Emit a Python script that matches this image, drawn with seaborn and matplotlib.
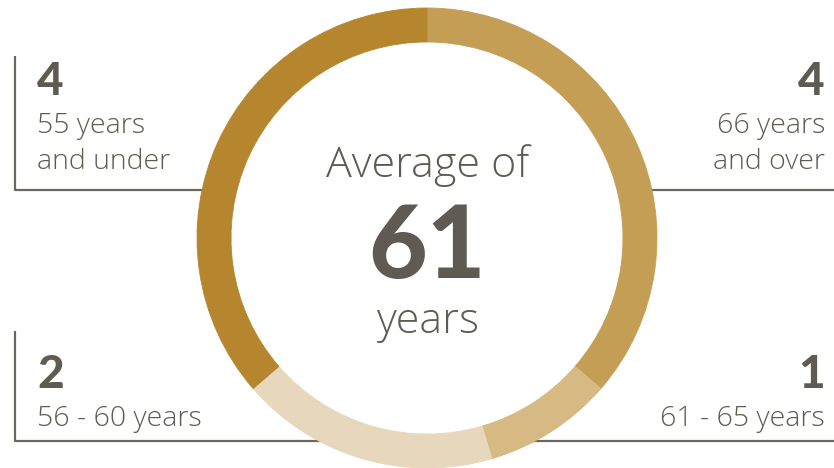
import matplotlib
matplotlib.use("Agg")
import matplotlib.pyplot as plt
import seaborn as sns
from matplotlib.patches import Circle

# Data
groups = ["66 years\nand over", "61 - 65 years", "56 - 60 years", "55 years\nand under"]
counts = [4, 1, 2, 4]
colors = ["#C59E56", "#D6B983", "#E7D7BC", "#B5862D"]
average_age = 61

sns.set_theme(style="white")
plt.rcParams['font.family'] = ['Open Sans', 'DejaVu Sans']

TEXT = "#5F5B53"
LINE = "#6B675F"
NUMFONT = ['Lato', 'DejaVu Sans']

fig = plt.figure(figsize=(8.34, 4.68), dpi=100)
ax = fig.add_axes([0, 0, 1, 1])
ax.set_xlim(0, 834)
ax.set_ylim(468, 0)
ax.set_aspect("equal")
ax.axis("off")

cx, cy, R = 427, 238, 230

# connector lines (behind donut)
lw = 1.6
ax.plot([15, 15, cx], [56, 190, 190], color=LINE, lw=lw, zorder=1, solid_capstyle="butt")
ax.plot([cx, 834], [190, 190], color=LINE, lw=lw, zorder=1)
ax.plot([15, 15, cx], [331, 441, 441], color=LINE, lw=lw, zorder=1, solid_capstyle="butt")
ax.plot([cx, 834], [441, 441], color=LINE, lw=lw, zorder=1)

wedges, _ = ax.pie(counts, colors=colors, center=(cx, cy), radius=R,
                   startangle=-90, counterclock=True,
                   wedgeprops=dict(width=34, linewidth=0.6))
for w in wedges:
    w.set_edgecolor(w.get_facecolor())
    w.set_zorder(3)
ax.add_patch(Circle((cx, cy), R - 34, facecolor="white", edgecolor="none", zorder=2))
ax.set_xlim(0, 834)
ax.set_ylim(468, 0)

# center text
ax.text(cx + 1, 177, "Average of", ha="center", va="baseline", fontsize=31,
        fontweight="light", color=TEXT, zorder=5)
ax.text(cx, 278, str(average_age), ha="center", va="baseline", fontsize=73,
        fontweight="black", family=NUMFONT, color=TEXT, zorder=5)
ax.text(cx + 1, 333, "years", ha="center", va="baseline", fontsize=31,
        fontweight="light", color=TEXT, zorder=5)

# side labels
def label(x, ybase, n, text, ha):
    ax.text(x, ybase, str(n), ha=ha, va="baseline", fontsize=33,
            fontweight="black", family=NUMFONT, color=TEXT, zorder=5)
    lines = text.split("\n")
    for i, t in enumerate(lines):
        ax.text(x, ybase + 38 + 36 * i, t, ha=ha, va="baseline", fontsize=20.5,
                fontweight="light", color=TEXT, zorder=5)

label(37, 95, counts[3], groups[3], "left")
label(825, 95, counts[0], groups[0], "right")
label(37, 388, counts[2], groups[2], "left")
label(825, 388, counts[1], groups[1], "right")

fig.savefig("out.png", dpi=100, facecolor="white")
